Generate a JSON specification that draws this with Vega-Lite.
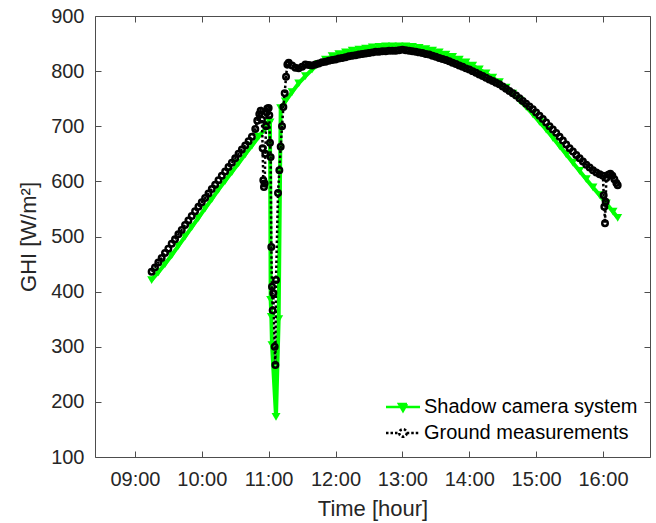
{
  "$schema": "https://vega.github.io/schema/vega-lite/v6.json",
  "width": 555,
  "height": 441,
  "autosize": {"type": "none"},
  "padding": {"left": 95, "top": 16, "right": 6, "bottom": 66},
  "background": "white",
  "datasets": {
    "green": [
      {"t": 9.25, "v": 421}, {"t": 9.35, "v": 435}, {"t": 9.45, "v": 450}, {"t": 9.55, "v": 466}, {"t": 9.65, "v": 483},
      {"t": 9.75, "v": 500}, {"t": 9.85, "v": 517}, {"t": 9.95, "v": 534}, {"t": 10.05, "v": 551}, {"t": 10.15, "v": 568},
      {"t": 10.25, "v": 585}, {"t": 10.35, "v": 601}, {"t": 10.45, "v": 617}, {"t": 10.55, "v": 633}, {"t": 10.65, "v": 649},
      {"t": 10.75, "v": 665}, {"t": 10.85, "v": 681}, {"t": 10.95, "v": 696}, {"t": 11.0, "v": 703}, {"t": 11.02, "v": 707},
      {"t": 11.03, "v": 385}, {"t": 11.04, "v": 354}, {"t": 11.05, "v": 303}, {"t": 11.11, "v": 173}, {"t": 11.15, "v": 350},
      {"t": 11.18, "v": 733}, {"t": 11.25, "v": 745}, {"t": 11.35, "v": 762}, {"t": 11.45, "v": 778}, {"t": 11.55, "v": 791},
      {"t": 11.65, "v": 803}, {"t": 11.75, "v": 813}, {"t": 11.85, "v": 821}, {"t": 11.95, "v": 827}, {"t": 12.05, "v": 831},
      {"t": 12.15, "v": 834}, {"t": 12.25, "v": 837}, {"t": 12.35, "v": 839}, {"t": 12.45, "v": 841}, {"t": 12.55, "v": 843},
      {"t": 12.65, "v": 844}, {"t": 12.75, "v": 845}, {"t": 12.85, "v": 845}, {"t": 12.95, "v": 845}, {"t": 13.05, "v": 845},
      {"t": 13.15, "v": 844}, {"t": 13.25, "v": 842}, {"t": 13.35, "v": 840}, {"t": 13.45, "v": 837}, {"t": 13.55, "v": 834},
      {"t": 13.65, "v": 830}, {"t": 13.75, "v": 826}, {"t": 13.85, "v": 821}, {"t": 13.95, "v": 816}, {"t": 14.05, "v": 810},
      {"t": 14.15, "v": 803}, {"t": 14.25, "v": 796}, {"t": 14.35, "v": 788}, {"t": 14.45, "v": 780}, {"t": 14.55, "v": 770},
      {"t": 14.65, "v": 759}, {"t": 14.75, "v": 747}, {"t": 14.85, "v": 735}, {"t": 14.95, "v": 722}, {"t": 15.05, "v": 708},
      {"t": 15.15, "v": 694}, {"t": 15.25, "v": 679}, {"t": 15.35, "v": 664}, {"t": 15.45, "v": 649}, {"t": 15.55, "v": 634},
      {"t": 15.65, "v": 619}, {"t": 15.75, "v": 604}, {"t": 15.85, "v": 589}, {"t": 15.95, "v": 575}, {"t": 16.05, "v": 560},
      {"t": 16.15, "v": 545}, {"t": 16.22, "v": 534}
    ],
    "black": [
      {"t": 9.25, "v": 436}, {"t": 9.3, "v": 444}, {"t": 9.35, "v": 453}, {"t": 9.4, "v": 461}, {"t": 9.45, "v": 470},
      {"t": 9.5, "v": 478}, {"t": 9.55, "v": 487}, {"t": 9.6, "v": 495}, {"t": 9.65, "v": 504}, {"t": 9.7, "v": 512},
      {"t": 9.75, "v": 521}, {"t": 9.8, "v": 529}, {"t": 9.85, "v": 537}, {"t": 9.9, "v": 546}, {"t": 9.95, "v": 554},
      {"t": 10.0, "v": 562}, {"t": 10.05, "v": 570}, {"t": 10.1, "v": 578}, {"t": 10.15, "v": 586}, {"t": 10.2, "v": 594},
      {"t": 10.25, "v": 602}, {"t": 10.3, "v": 610}, {"t": 10.35, "v": 618}, {"t": 10.4, "v": 626}, {"t": 10.45, "v": 634},
      {"t": 10.5, "v": 642}, {"t": 10.55, "v": 650}, {"t": 10.6, "v": 658}, {"t": 10.65, "v": 665}, {"t": 10.7, "v": 673},
      {"t": 10.75, "v": 681}, {"t": 10.8, "v": 695}, {"t": 10.83, "v": 710}, {"t": 10.86, "v": 722}, {"t": 10.88, "v": 728},
      {"t": 10.9, "v": 712}, {"t": 10.91, "v": 660}, {"t": 10.92, "v": 602}, {"t": 10.93, "v": 590}, {"t": 10.94, "v": 596},
      {"t": 10.95, "v": 650}, {"t": 10.96, "v": 700}, {"t": 10.97, "v": 725}, {"t": 10.98, "v": 732}, {"t": 11.0, "v": 733},
      {"t": 11.01, "v": 720}, {"t": 11.02, "v": 670}, {"t": 11.03, "v": 644}, {"t": 11.04, "v": 481}, {"t": 11.05, "v": 409},
      {"t": 11.06, "v": 366}, {"t": 11.07, "v": 397}, {"t": 11.09, "v": 300}, {"t": 11.1, "v": 267}, {"t": 11.11, "v": 421},
      {"t": 11.14, "v": 579}, {"t": 11.16, "v": 620}, {"t": 11.18, "v": 663}, {"t": 11.2, "v": 700}, {"t": 11.22, "v": 735},
      {"t": 11.24, "v": 760}, {"t": 11.26, "v": 790}, {"t": 11.28, "v": 812}, {"t": 11.3, "v": 815}, {"t": 11.35, "v": 810},
      {"t": 11.4, "v": 806}, {"t": 11.45, "v": 805}, {"t": 11.5, "v": 808}, {"t": 11.55, "v": 812}, {"t": 11.6, "v": 811},
      {"t": 11.65, "v": 810}, {"t": 11.7, "v": 812}, {"t": 11.75, "v": 814}, {"t": 11.8, "v": 816}, {"t": 11.85, "v": 817},
      {"t": 11.9, "v": 819}, {"t": 11.95, "v": 820}, {"t": 12.0, "v": 821}, {"t": 12.05, "v": 823}, {"t": 12.1, "v": 824},
      {"t": 12.15, "v": 825}, {"t": 12.2, "v": 827}, {"t": 12.25, "v": 828}, {"t": 12.3, "v": 829}, {"t": 12.35, "v": 830},
      {"t": 12.4, "v": 831}, {"t": 12.45, "v": 832}, {"t": 12.5, "v": 833}, {"t": 12.55, "v": 834}, {"t": 12.6, "v": 835},
      {"t": 12.65, "v": 835}, {"t": 12.7, "v": 836}, {"t": 12.75, "v": 836}, {"t": 12.8, "v": 837}, {"t": 12.85, "v": 837},
      {"t": 12.9, "v": 837}, {"t": 12.95, "v": 838}, {"t": 13.0, "v": 839}, {"t": 13.05, "v": 838}, {"t": 13.1, "v": 837},
      {"t": 13.15, "v": 836}, {"t": 13.2, "v": 835}, {"t": 13.25, "v": 834}, {"t": 13.3, "v": 833}, {"t": 13.35, "v": 831},
      {"t": 13.4, "v": 830}, {"t": 13.45, "v": 828}, {"t": 13.5, "v": 826}, {"t": 13.55, "v": 824}, {"t": 13.6, "v": 822},
      {"t": 13.65, "v": 820}, {"t": 13.7, "v": 818}, {"t": 13.75, "v": 815}, {"t": 13.8, "v": 813}, {"t": 13.85, "v": 810},
      {"t": 13.9, "v": 808}, {"t": 13.95, "v": 805}, {"t": 14.0, "v": 803}, {"t": 14.05, "v": 800}, {"t": 14.1, "v": 797},
      {"t": 14.15, "v": 794}, {"t": 14.2, "v": 791}, {"t": 14.25, "v": 788}, {"t": 14.3, "v": 785}, {"t": 14.35, "v": 782},
      {"t": 14.4, "v": 779}, {"t": 14.45, "v": 776}, {"t": 14.5, "v": 772}, {"t": 14.55, "v": 768}, {"t": 14.6, "v": 764},
      {"t": 14.65, "v": 760}, {"t": 14.7, "v": 756}, {"t": 14.75, "v": 751}, {"t": 14.8, "v": 746}, {"t": 14.85, "v": 741},
      {"t": 14.9, "v": 736}, {"t": 14.95, "v": 731}, {"t": 15.0, "v": 725}, {"t": 15.05, "v": 719}, {"t": 15.1, "v": 713},
      {"t": 15.15, "v": 707}, {"t": 15.2, "v": 700}, {"t": 15.25, "v": 694}, {"t": 15.3, "v": 688}, {"t": 15.35, "v": 681},
      {"t": 15.4, "v": 674}, {"t": 15.45, "v": 667}, {"t": 15.5, "v": 660}, {"t": 15.55, "v": 654}, {"t": 15.6, "v": 648},
      {"t": 15.65, "v": 642}, {"t": 15.7, "v": 636}, {"t": 15.75, "v": 630}, {"t": 15.8, "v": 625}, {"t": 15.85, "v": 620},
      {"t": 15.9, "v": 616}, {"t": 15.95, "v": 613}, {"t": 16.0, "v": 610}, {"t": 16.01, "v": 575}, {"t": 16.02, "v": 554},
      {"t": 16.03, "v": 524}, {"t": 16.04, "v": 563}, {"t": 16.05, "v": 606}, {"t": 16.08, "v": 612}, {"t": 16.11, "v": 614},
      {"t": 16.14, "v": 610}, {"t": 16.17, "v": 604}, {"t": 16.2, "v": 597}, {"t": 16.22, "v": 593}
    ]
  },
  "resolve": {"axis": {"x": "independent", "y": "independent"}},
  "layer": [
    {
      "data": {"name": "green"},
      "mark": {"type": "line", "strokeWidth": 4, "interpolate": "linear"},
      "encoding": {
        "x": {"field": "t", "type": "quantitative",
              "scale": {"domain": [8.403, 16.703], "nice": false, "zero": false},
              "axis": {"orient": "bottom", "values": [9, 10, 11, 12, 13, 14, 15, 16],
                       "labelExpr": "(datum.value < 10 ? '0' : '') + datum.value + ':00'",
                       "title": "Time [hour]", "labelPadding": 18, "titlePadding": 9}},
        "y": {"field": "v", "type": "quantitative",
              "scale": {"domain": [100, 900], "nice": false, "zero": false},
              "axis": {"orient": "left", "values": [100, 200, 300, 400, 500, 600, 700, 800, 900],
                       "title": "GHI [W/m²]", "labelPadding": 17, "titlePadding": 10}},
        "color": {"datum": "Shadow camera system", "type": "nominal",
                  "scale": {"domain": ["Shadow camera system", "Ground measurements"], "range": ["#00ff00", "#000000"]},
                  "legend": {
                    "orient": "none", "legendX": 298, "legendY": 381, "title": null, "padding": 0,
                    "labelFont": "Liberation Sans", "labelFontSize": 20, "labelColor": "#000000", "labelLimit": 0,
                    "symbolSize": 100, "labelOffset": 11, "rowPadding": 6, "symbolStrokeWidth": 2.5,
                    "encode": {"symbols": {"update": {
                      "shape": {"signal": "datum.value === 'Shadow camera system' ? 'M-3.4,0H3.4M-0.8,-0.6H0.8L0,0.8Z' : 'M-3.4,0H-0.75M0.75,0H3.4M0.75,0A0.75,0.75,0,1,1,-0.75,0A0.75,0.75,0,1,1,0.75,0Z'"},
                      "fill": {"signal": "datum.value === 'Shadow camera system' ? '#00ff00' : 'white'"},
                      "strokeDash": {"signal": "datum.value === 'Shadow camera system' ? [1, 0] : [2.5, 2]"}
                    }}}
                  }}
      }
    },
    {
      "data": {"name": "green"},
      "mark": {"type": "point", "shape": "triangle-down", "filled": true, "size": 80, "color": "#00ff00", "opacity": 1},
      "encoding": {
        "x": {"field": "t", "type": "quantitative",
              "axis": {"orient": "top", "values": [9, 10, 11, 12, 13, 14, 15, 16], "labels": false, "title": null}},
        "y": {"field": "v", "type": "quantitative",
              "axis": {"orient": "right", "values": [100, 200, 300, 400, 500, 600, 700, 800, 900], "labels": false, "title": null}}
      }
    },
    {
      "data": {"name": "black"},
      "mark": {"type": "line", "strokeWidth": 2.5, "strokeDash": [2.5, 2.5]},
      "encoding": {
        "x": {"field": "t", "type": "quantitative", "axis": null},
        "y": {"field": "v", "type": "quantitative", "axis": null},
        "color": {"datum": "Ground measurements", "type": "nominal"}
      }
    },
    {
      "data": {"name": "black"},
      "mark": {"type": "point", "shape": "circle", "filled": false, "size": 30, "color": "#000000", "strokeWidth": 2.5, "opacity": 1},
      "encoding": {
        "x": {"field": "t", "type": "quantitative", "axis": null},
        "y": {"field": "v", "type": "quantitative", "axis": null}
      }
    }
  ],
  "config": {
    "view": {"stroke": null},
    "axis": {
      "grid": false, "domainColor": "#4d4d4d", "tickColor": "#4d4d4d", "domainWidth": 1, "tickWidth": 1, "tickSize": -6,
      "labelFont": "Liberation Sans", "titleFont": "Liberation Sans", "labelFontSize": 20, "titleFontSize": 22,
      "labelColor": "#262626", "titleColor": "#262626", "titleFontWeight": "normal", "labelFlush": false, "labelOverlap": false
    }
  }
}
